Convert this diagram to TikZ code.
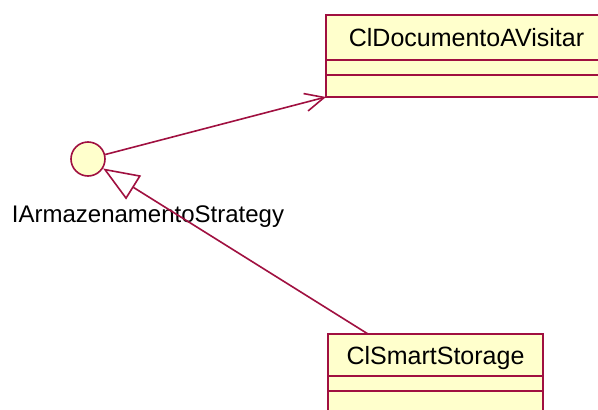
\documentclass[tikz,border=0pt]{standalone}
\usepackage{fontspec}
\setmainfont{Liberation Sans}
\usetikzlibrary{arrows.meta}
\definecolor{umlline}{RGB}{160,16,64}
\definecolor{umlfill}{RGB}{255,255,204}

\begin{document}
\begin{tikzpicture}[x=1pt,y=-1pt,
  every node/.style={font=\fontsize{25}{30}\selectfont},
  part/.style={draw=umlline, fill=umlfill, line width=1.6pt, rectangle,
    inner sep=0pt, outer sep=0pt, anchor=north west},
  title/.style={part, text height=18pt, text depth=0pt},
  iface/.style={circle, draw=umlline, fill=umlfill, line width=1.6pt,
    minimum size=34pt, inner sep=0pt},
  link/.style={draw=umlline, line width=1.6pt}]
\useasboundingbox (0,0) rectangle (598,410);

% class ClDocumentoAVisitar: name, attributes, operations
\node[title, minimum width=281pt, minimum height=45pt] (doc) at (326,15) {ClDocumentoAVisitar};
\node[part, minimum width=281pt, minimum height=15pt] (docA) at (doc.south west) {};
\node[part, minimum width=281pt, minimum height=22pt] (docO) at (docA.south west) {};

% class ClSmartStorage
\node[title, minimum width=215pt, minimum height=42pt] (smart) at (328,334) {ClSmartStorage};
\node[part, minimum width=215pt, minimum height=15pt] (smartA) at (smart.south west) {};
\node[part, minimum width=215pt, minimum height=24pt] (smartO) at (smartA.south west) {};

% interface (lollipop) and its name
\node[iface] (strat) at (88,159) {};
\node[anchor=base, font=\fontsize{24}{29}\selectfont] (stratname) at (148,222) {IArmazenamentoStrategy};

% dependency from the interface to ClDocumentoAVisitar
\draw[link, -{Straight Barb[length=19pt,width=18pt]}] (strat) -- (docO.south west);

% ClSmartStorage realizes the interface
\coordinate (genfoot) at (368,334);
\draw[link, -{Triangle[open, length=36pt, width=28pt, fill=white]}] (genfoot) -- (strat);
\end{tikzpicture}
\end{document}
